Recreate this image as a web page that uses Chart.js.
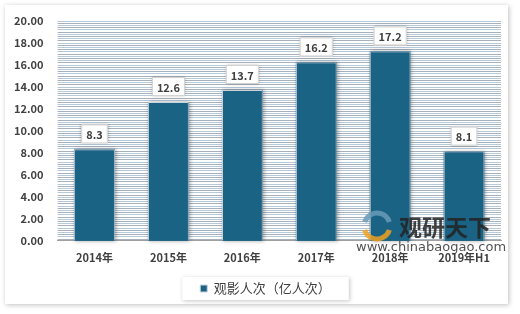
<!DOCTYPE html>
<html>
<head>
<meta charset="utf-8">
<script src="https://cdn.jsdelivr.net/npm/chart.js@4/dist/chart.umd.min.js"></script>
<style>
  html, body { margin: 0; padding: 0; background: #fff; }
  #wrap { width: 520px; height: 314px; position: relative; }
</style>
</head>
<body>
<div id="wrap"><canvas id="chart"></canvas></div>
<script>
// 观影人次 data
var years = ["2014年", "2015年", "2016年", "2017年", "2018年", "2019年H1"];
var viewers = [8.3, 12.6, 13.7, 16.2, 17.2, 8.1];
var yTicks = [0, 2, 4, 6, 8, 10, 12, 14, 16, 18, 20];
var seriesName = "观影人次（亿人次）";

var FONT = "'Noto Sans CJK SC', 'Noto Sans', sans-serif";
var BAR = "#1b6385";

// frame, stripes and legend box
var backdrop = {
  id: "backdrop",
  afterLayout: function(chart) {
    // legend sits a little right of centre in the original
    chart.legend.left += 15;
    chart.legend.right += 15;
  },
  beforeDraw: function(chart) {
    var ctx = chart.ctx, area = chart.chartArea, ys = chart.scales.y;
    ctx.save();
    ctx.shadowColor = "rgba(0,0,0,0.25)";
    ctx.shadowBlur = 5;
    ctx.shadowOffsetX = 1;
    ctx.shadowOffsetY = 1;
    ctx.fillStyle = "#fff";
    ctx.fillRect(5, 5, 503, 299);
    ctx.restore();

    ctx.save();
    var n = 0;
    for (var v = 0.2; v <= 20.001; v += 0.2) {
      var py = Math.round(ys.getPixelForValue(v));
      ctx.fillStyle = (n % 2 === 0) ? "#a8b1bb" : "#b4c9da";
      ctx.fillRect(area.left, py, area.right - area.left, 1);
      n++;
    }
    ctx.restore();

    var hb = chart.legend.legendHitBoxes[0];
    if (hb) {
      ctx.save();
      ctx.shadowColor = "rgba(0,0,0,0.22)";
      ctx.shadowBlur = 4;
      ctx.shadowOffsetX = 1;
      ctx.shadowOffsetY = 1;
      ctx.fillStyle = "#fff";
      ctx.fillRect(hb.left - 18, hb.top - 5, hb.width + 36, hb.height + 10);
      ctx.restore();
    }
  },
  beforeDatasetsDraw: function(chart) {
    var ctx = chart.ctx;
    chart.getDatasetMeta(0).data.forEach(function(bar) {
      var w = bar.width;
      ctx.save();
      ctx.shadowColor = "rgba(0,0,0,0.35)";
      ctx.shadowBlur = 4;
      ctx.shadowOffsetX = 1;
      ctx.shadowOffsetY = 0;
      ctx.fillStyle = BAR;
      ctx.fillRect(bar.x - w / 2, bar.y, w, bar.base - bar.y);
      ctx.restore();
    });
  }
};

// value boxes above each bar
var valueBoxes = {
  id: "valueBoxes",
  afterDatasetsDraw: function(chart) {
    var ctx = chart.ctx;
    var ds = chart.data.datasets[0];
    chart.getDatasetMeta(0).data.forEach(function(bar, i) {
      var txt = ds.data[i].toFixed(1);
      ctx.save();
      ctx.font = "bold 11px " + FONT;
      var tw = ctx.measureText(txt).width;
      var bw = tw + 10, bh = 19;
      var bx = bar.x - bw / 2, by = bar.y - 6 - bh;
      ctx.shadowColor = "rgba(0,0,0,0.35)";
      ctx.shadowBlur = 3;
      ctx.fillStyle = "#fff";
      ctx.fillRect(bx, by, bw, bh);
      ctx.shadowColor = "transparent";
      ctx.strokeStyle = "#d0d0d0";
      ctx.lineWidth = 1;
      ctx.strokeRect(bx + 0.5, by + 0.5, bw - 1, bh - 1);
      ctx.fillStyle = "#404040";
      ctx.textAlign = "center";
      ctx.textBaseline = "middle";
      ctx.fillText(txt, bar.x, by + bh / 2 + 1);
      ctx.restore();
    });
  }
};

// watermark
var watermark = {
  id: "watermark",
  afterDraw: function(chart) {
    var ctx = chart.ctx;
    ctx.save();
    ctx.globalAlpha = 0.85;
    ctx.lineWidth = 5;
    ctx.strokeStyle = "#6a9ab8";
    ctx.beginPath();
    ctx.arc(377, 226, 13, Math.PI * 1.1, Math.PI * 1.9);
    ctx.stroke();
    ctx.strokeStyle = "#f0a020";
    ctx.beginPath();
    ctx.arc(377, 226, 13, Math.PI * 0.1, Math.PI * 0.9);
    ctx.stroke();
    ctx.fillStyle = "#222";
    ctx.font = "bold 23px " + FONT;
    ctx.textBaseline = "middle";
    ctx.fillText("观研天下", 399, 227);
    ctx.fillStyle = "#333";
    ctx.font = "13px 'DejaVu Sans', sans-serif";
    ctx.fillText("www.chinabaogao.com", 356, 248);
    ctx.restore();
  }
};

new Chart(document.getElementById("chart").getContext("2d"), {
  type: "bar",
  data: {
    labels: years,
    datasets: [{
      label: seriesName,
      data: viewers,
      backgroundColor: BAR,
      borderColor: "#c9d3db",
      borderWidth: 1,
      categoryPercentage: 1,
      barPercentage: 0.55
    }]
  },
  options: {
    responsive: true,
    maintainAspectRatio: false,
    animation: false,
    layout: { padding: { left: 0, right: 19, top: 10, bottom: 9 } },
    scales: {
      x: {
        grid: { display: false, drawTicks: false },
        border: { display: true, color: "#a0a0a0" },
        ticks: { color: "#404040", font: { family: FONT, size: 11, weight: "bold" }, padding: 10 }
      },
      y: {
        min: 0,
        max: 20,
        afterBuildTicks: function(axis) {
          axis.ticks = yTicks.map(function(v) { return { value: v }; });
        },
        grid: { display: false, drawTicks: false },
        border: { display: false },
        ticks: {
          color: "#404040",
          font: { family: FONT, size: 11, weight: "bold" },
          padding: 14,
          callback: function(v) { return Number(v).toFixed(2); }
        }
      }
    },
    plugins: {
      legend: {
        position: "bottom",
        labels: {
          boxWidth: 7,
          boxHeight: 7,
          padding: 8,
          color: "#404040",
          font: { family: FONT, size: 13 }
        }
      },
      tooltip: { enabled: false }
    }
  },
  plugins: [backdrop, valueBoxes, watermark]
});
</script>
</body>
</html>
